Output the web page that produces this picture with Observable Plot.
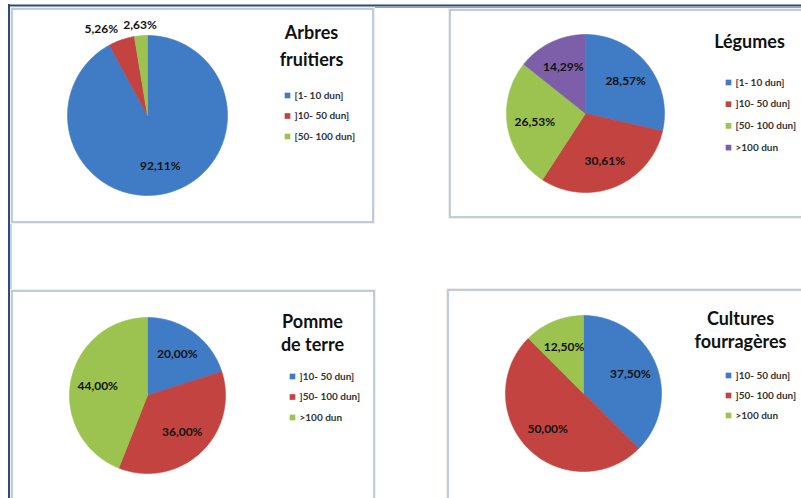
<!DOCTYPE html>
<html>
<head>
<meta charset="utf-8">
<script src="https://cdn.jsdelivr.net/npm/d3@7"></script>
<script src="https://cdn.jsdelivr.net/npm/@observablehq/plot@0.6"></script>
<style>
  html, body { margin: 0; padding: 0; background: #fff; overflow: hidden; }
  #chart svg { display: block; }
</style>
</head>
<body>
<div id="chart"></div>
<script>
// ---- Data ----
const title1 = ["Arbres", "fruitiers"];
const categories1 = ["[1- 10 dun]", "]10- 50 dun]", "[50- 100 dun]"];
const values1 = [92.11, 5.26, 2.63];

const title2 = ["Légumes"];
const categories2 = ["[1- 10 dun]", "]10- 50 dun]", "[50- 100 dun]", ">100 dun"];
const values2 = [28.57, 30.61, 26.53, 14.29];

const title3 = ["Pomme", "de terre"];
const categories3 = ["]10- 50 dun]", "]50- 100 dun]", ">100 dun"];
const values3 = [20.00, 36.00, 44.00];

const title4 = ["Cultures", "fourragères"];
const categories4 = ["]10- 50 dun]", "]50- 100 dun]", ">100 dun"];
const values4 = [37.50, 50.00, 12.50];

const sliceColors = ["#3f7cc5", "#c2433f", "#9cc24f", "#7c5fa8"];

// ---- Layout (pixel frame) ----
const layouts = [
  {box: [12, 9, 373, 222], cx: 147, cy: 115, r: 80, tx: 311, ty: 33, tStep: 27, lx: 287, ly: 95, lStep: 20.5},
  {box: [450, 10, 806, 217], cx: 585, cy: 113, r: 79, tx: 749, ty: 42, tStep: 25, lx: 728, ly: 82, lStep: 21.7},
  {box: [12, 291, 374, 505], cx: 147, cy: 395, r: 78, tx: 312, ty: 322, tStep: 23, lx: 292, ly: 376, lStep: 20.5},
  {box: [448, 290, 806, 505], cx: 583, cy: 393, r: 78, tx: 740, ty: 319, tStep: 23, lx: 728, ly: 375, lStep: 20}
];

const charts = [
  {title: title1, cats: categories1, vals: values1},
  {title: title2, cats: categories2, vals: values2},
  {title: title3, cats: categories3, vals: values3},
  {title: title4, cats: categories4, vals: values4}
];

const fmt = v => v.toFixed(2).replace(".", ",") + "%";

const slicePts = [], labelsMid = [], labelsEnd = [], titles = [], legend = [], boxes = [];
charts.forEach((c, ci) => {
  const L = layouts[ci];
  boxes.push({x1: L.box[0], y1: L.box[1], x2: L.box[2], y2: L.box[3]});
  const total = d3.sum(c.vals);
  let acc = 0;
  const small = [];
  c.vals.forEach((v, i) => {
    const a0 = acc / total * 2 * Math.PI;
    acc += v;
    const a1 = acc / total * 2 * Math.PI;
    const key = ci + "-" + i;
    slicePts.push({key, slot: i, x: L.cx, y: L.cy});
    const n = Math.max(2, Math.ceil((a1 - a0) / (Math.PI / 180)));
    for (let k = 0; k <= n; k++) {
      const t = a0 + (a1 - a0) * k / n;
      slicePts.push({key, slot: i, x: L.cx + L.r * Math.sin(t), y: L.cy - L.r * Math.cos(t)});
    }
    slicePts.push({key, slot: i, x: L.cx, y: L.cy});
    const mid = (a0 + a1) / 2;
    const share = v / total;
    if (share >= 0.08) {
      const rr = L.r * 0.65;
      labelsMid.push({text: fmt(v), x: L.cx + rr * Math.sin(mid), y: L.cy - rr * Math.cos(mid)});
    } else {
      const rr = L.r + 11;
      small.push({text: fmt(v), x: L.cx + rr * Math.sin(mid), y: L.cy - rr * Math.cos(mid)});
    }
    legend.push({slot: i, x: L.lx, y: L.ly + i * L.lStep, text: c.cats[i]});
  });
  // outside labels: all but the last are right-aligned to avoid collisions
  small.forEach((s, k) => (k < small.length - 1 ? labelsEnd : labelsMid).push(s));
  c.title.forEach((t, k) => titles.push({text: t, x: L.tx, y: L.ty + k * L.tStep}));
});

const W = 801, H = 498;
const labelStyle = {x: "x", y: "y", text: "text", fill: "#111", fontSize: 12, fontWeight: "bold"};
const plot = Plot.plot({
  width: W, height: H,
  margin: 0,
  x: {domain: [0, W], range: [0, W], axis: null},
  y: {domain: [0, H], range: [0, H], axis: null},
  color: {type: "ordinal", domain: [0, 1, 2, 3], range: sliceColors},
  style: {fontFamily: "Lato, 'Open Sans', sans-serif", background: "#fff"},
  marks: [
    // outer document frame
    Plot.ruleY([5], {x1: 8, x2: W, stroke: "#2b4b7d", strokeWidth: 2}),
    Plot.ruleY([7], {x1: 10, x2: W, stroke: "#8aa5c9", strokeWidth: 1}),
    Plot.ruleX([8.5], {y1: 4, y2: H, stroke: "#2b4b7d", strokeWidth: 2}),
    Plot.ruleX([10.5], {y1: 6, y2: H, stroke: "#8aa5c9", strokeWidth: 1}),
    // chart boxes
    Plot.rect(boxes, {x1: "x1", y1: "y1", x2: "x2", y2: "y2", fill: "none", stroke: "#f8ece6", strokeWidth: 4}),
    Plot.rect(boxes, {x1: "x1", y1: "y1", x2: "x2", y2: "y2", fill: "#fff", stroke: "#aec3d6", strokeWidth: 1.6}),
    // pie slices
    Plot.line(slicePts, {x: "x", y: "y", z: "key", fill: "slot", stroke: "slot", strokeWidth: 0.6, curve: "linear"}),
    // data labels
    Plot.text(labelsMid, {...labelStyle, textAnchor: "middle"}),
    Plot.text(labelsEnd, {...labelStyle, textAnchor: "end"}),
    // titles
    Plot.text(titles, {x: "x", y: "y", text: "text", fill: "#111", fontSize: 18, fontWeight: "bold"}),
    // legends
    Plot.dot(legend, {x: "x", y: "y", fill: "slot", symbol: "square", r: 3.2}),
    Plot.text(legend, {x: d => d.x + 7, y: "y", text: "text", textAnchor: "start", fill: "#333", fontSize: 10, fontWeight: "bold"})
  ]
});
document.getElementById("chart").appendChild(plot);
</script>
</body>
</html>
